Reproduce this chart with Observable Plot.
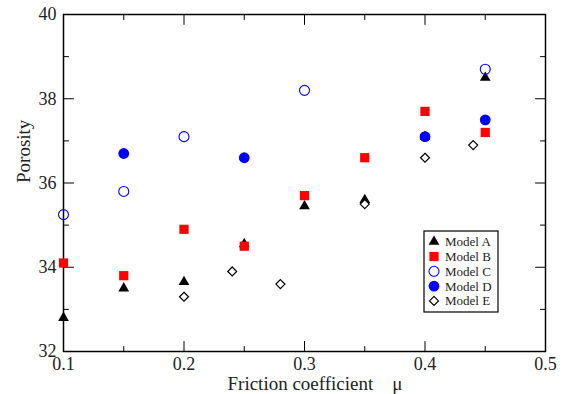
<!DOCTYPE html>
<html><head><meta charset="utf-8">
<script src="https://cdn.jsdelivr.net/npm/d3@7"></script>
<script src="https://cdn.jsdelivr.net/npm/@observablehq/plot@0.6"></script>
<style>body{margin:0;background:#fff}</style>
</head><body><div id="chart"></div>
<script>
const models = ["Model A", "Model B", "Model C", "Model D", "Model E"];
const muA = [0.1, 0.15, 0.2, 0.25, 0.3, 0.35, 0.4, 0.45];
const porA = [32.8, 33.5, 33.65, 34.55, 35.45, 35.6, 37.1, 38.5];
const muB = [0.1, 0.15, 0.2, 0.25, 0.3, 0.35, 0.4, 0.45];
const porB = [34.1, 33.8, 34.9, 34.5, 35.7, 36.6, 37.7, 37.2];
const muC = [0.1, 0.15, 0.2, 0.3, 0.45];
const porC = [35.25, 35.8, 37.1, 38.2, 38.7];
const muD = [0.15, 0.25, 0.4, 0.45];
const porD = [36.7, 36.6, 37.1, 37.5];
const muE = [0.2, 0.24, 0.28, 0.35, 0.4, 0.44];
const porE = [33.3, 33.9, 33.6, 35.5, 36.6, 36.9];
const xTicks = [0.1, 0.2, 0.3, 0.4, 0.5];
const xMinor = [0.15, 0.25, 0.35, 0.45];
const yTicks = [32, 34, 36, 38, 40];
const yMinor = [33, 35, 37, 39];
const xTitle = "Friction coefficient\u2003μ";
const yTitle = "Porosity";

const styles = {
  "Model A": {symbol: "triangle", d3sym: d3.symbolTriangle, fill: "#000", stroke: "none", r: 4, sw: 0},
  "Model B": {symbol: "square", d3sym: d3.symbolSquare, fill: "#ff0000", stroke: "none", r: 5.2, sw: 0},
  "Model C": {symbol: "circle", d3sym: d3.symbolCircle, fill: "none", stroke: "#0000ff", r: 5, sw: 1.1},
  "Model D": {symbol: "circle", d3sym: d3.symbolCircle, fill: "#0000ff", stroke: "none", r: 5.4, sw: 0},
  "Model E": {symbol: "diamond2", d3sym: d3.symbolDiamond2, fill: "white", stroke: "#000", r: 4.05, sw: 1.2}
};

const series = [["Model A", muA, porA], ["Model B", muB, porB], ["Model C", muC, porC], ["Model D", muD, porD], ["Model E", muE, porE]];
const rows = series.flatMap(([m, xs, ys]) => xs.map((x, i) => ({model: m, mu: x, porosity: ys[i]})));

const tickShape = {draw(c, l) { c.moveTo(0, 0); c.lineTo(0, -l); }};
const tickOpts = {anchor: "start", shape: tickShape, stroke: "#000", strokeWidth: 1};

function legend(index, scales, values, dimensions) {
  const {width, marginRight, marginTop} = dimensions;
  const g = d3.create("svg:g");
  const x0 = width - marginRight - 121, y0 = marginTop + 217;
  g.append("rect").attr("x", x0).attr("y", y0).attr("width", 74).attr("height", 81)
    .attr("fill", "white").attr("stroke", "#000").attr("stroke-width", 1.2);
  models.forEach((m, i) => {
    const s = styles[m];
    const cy = y0 + 10.7 + i * 14.8;
    g.append("path")
      .attr("transform", `translate(${x0 + 10},${cy})`)
      .attr("d", d3.symbol(s.d3sym, Math.PI * s.r * s.r)())
      .attr("fill", s.fill).attr("stroke", s.stroke).attr("stroke-width", s.sw);
    g.append("text").attr("x", x0 + 21).attr("y", cy).attr("dy", "0.35em")
      .attr("text-anchor", "start")
      .attr("font-size", 13).attr("fill", "#222").text(m);
  });
  return g.node();
}

const plot = Plot.plot({
  width: 575,
  height: 394,
  marginLeft: 63,
  marginRight: 30,
  marginTop: 14,
  marginBottom: 43,
  style: {fontFamily: "'Liberation Serif', 'Times New Roman', serif", fontSize: "18px", color: "#222", background: "white", overflow: "visible"},
  x: {domain: [0.1, 0.5]},
  y: {domain: [32, 40]},
  marks: [
    Plot.frame({stroke: "#000", strokeWidth: 1.5}),
    Plot.vectorX(xTicks, {x: d => d, frameAnchor: "bottom", rotate: 0, length: 10, ...tickOpts}),
    Plot.vectorX(xMinor, {x: d => d, frameAnchor: "bottom", rotate: 0, length: 5, ...tickOpts}),
    Plot.vectorX(xTicks, {x: d => d, frameAnchor: "top", rotate: 180, length: 10, ...tickOpts}),
    Plot.vectorX(xMinor, {x: d => d, frameAnchor: "top", rotate: 180, length: 5, ...tickOpts}),
    Plot.vectorY(yTicks, {y: d => d, frameAnchor: "left", rotate: 90, length: 10, ...tickOpts}),
    Plot.vectorY(yMinor, {y: d => d, frameAnchor: "left", rotate: 90, length: 5, ...tickOpts}),
    Plot.vectorY(yTicks, {y: d => d, frameAnchor: "right", rotate: -90, length: 10, ...tickOpts}),
    Plot.vectorY(yMinor, {y: d => d, frameAnchor: "right", rotate: -90, length: 5, ...tickOpts}),
    Plot.axisX({ticks: xTicks, tickSize: 0, tickPadding: 6, tickFormat: d => d.toFixed(1), label: null}),
    Plot.axisY({ticks: yTicks, tickSize: 0, tickPadding: 7, label: null}),
    Plot.text([yTitle], {text: d => d, frameAnchor: "left", dx: -40, rotate: -90, fontSize: 19, lineAnchor: "middle", fill: "#222"}),
    Plot.text([xTitle], {text: d => d, frameAnchor: "bottom", dx: -77, dy: 38, textAnchor: "start", lineAnchor: "bottom", fontSize: 19, fill: "#222"}),
    ...models.map(m => {
      const s = styles[m];
      return Plot.dot(rows.filter(d => d.model === m), {
        x: "mu", y: "porosity", symbol: s.symbol, r: s.r,
        fill: s.fill, stroke: s.stroke, strokeWidth: s.sw || undefined
      });
    }),
    legend
  ]
});
document.getElementById("chart").append(plot);
</script>
</body></html>
